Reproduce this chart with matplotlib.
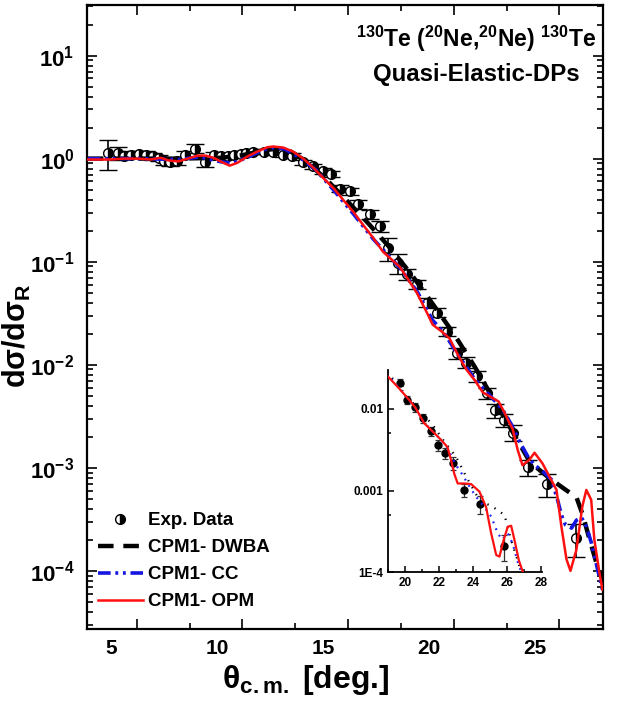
import numpy as np
import matplotlib
matplotlib.use("Agg")
import matplotlib.pyplot as plt
from matplotlib.lines import Line2D
from matplotlib.transforms import ScaledTranslation
from matplotlib.ticker import LogLocator, FuncFormatter, NullFormatter, MultipleLocator, FixedLocator

plt.rcParams["font.family"] = ["Liberation Sans", "DejaVu Sans"]
plt.rcParams["font.weight"] = "bold"
plt.rcParams["mathtext.fontset"] = "custom"
plt.rcParams["mathtext.rm"] = "Liberation Sans:bold"
plt.rcParams["mathtext.bf"] = "Liberation Sans:bold"
plt.rcParams["mathtext.it"] = "Liberation Sans:bold:italic"
plt.rcParams["mathtext.default"] = "bf"

# experimental data (theta_cm, ratio to Rutherford, relative error)
exp_theta = [3.63, 4.1, 4.39, 4.72, 5.1, 5.42, 5.75, 6.04, 6.3, 6.6, 6.93, 7.3, 7.74, 8.25,
             8.68, 9.0, 9.3, 9.62, 9.95, 10.19, 10.5, 11.04, 11.46, 11.9, 12.36, 12.88,
             13.35, 13.8, 14.2, 14.62, 15.1, 15.47, 16.04, 16.5, 16.88, 17.36, 17.8, 18.25,
             18.73, 19.2, 19.7, 20.14, 20.6, 21.08, 21.55, 21.93, 22.36, 22.8, 23.5, 24.43, 25.8]
exp_sigma = [1.14, 1.14, 1.07, 1.09, 1.12, 1.09, 1.05, 1.02, 0.94, 0.92, 0.94, 1.09, 1.25, 0.92,
             1.09, 1.05, 1.05, 1.09, 1.12, 1.14, 1.17, 1.17, 1.17, 1.09, 1.07, 0.92,
             0.84, 0.76, 0.71, 0.51, 0.48, 0.36, 0.29, 0.22, 0.135, 0.098, 0.076, 0.061,
             0.040, 0.032, 0.021, 0.013, 0.0105, 0.0077, 0.0053, 0.0036, 0.0029, 0.0022,
             0.00101, 0.00069, 0.00021]
exp_rel_err = [0.32, 0.15, 0.08, 0.08, 0.07, 0.08, 0.07, 0.07, 0.07, 0.07, 0.08, 0.08, 0.10, 0.10,
               0.07, 0.05, 0.05, 0.05, 0.05, 0.05, 0.05, 0.05, 0.05, 0.05, 0.05, 0.06,
               0.06, 0.06, 0.07, 0.08, 0.08, 0.09, 0.10, 0.12, 0.25, 0.22, 0.12, 0.10,
               0.10, 0.10, 0.10, 0.12, 0.12, 0.12, 0.12, 0.15, 0.15, 0.18, 0.18, 0.25, 0.35]

# CPM1 - OPM (main panel)
opm_theta = [2.69, 3.77, 4.39, 5.05, 5.66, 6.13, 6.51, 6.98, 7.41, 7.88, 8.25, 8.63, 9.1, 9.4,
             9.76, 10.24, 10.7, 11.18, 11.46, 11.93, 12.4, 12.88, 13.35, 13.82, 14.3, 14.76,
             15.24, 15.7, 16.18, 16.65, 17.45, 18.25, 18.73, 19.0, 19.43, 19.8, 20.19, 20.61,
             20.99, 21.37, 21.8, 22.12, 22.41, 22.64, 22.78, 23.02, 23.25, 23.58, 23.82, 24.2,
             24.53, 24.86, 25.09, 25.33, 25.52, 25.8, 26.08, 26.27, 26.5, 26.65, 26.89, 27.03]
opm_sigma = [0.98, 0.98, 1.0, 1.0, 0.98, 1.02, 0.96, 0.94, 1.0, 1.07, 1.07, 1.02, 0.91, 0.855,
             0.91, 1.05, 1.17, 1.29, 1.31, 1.28, 1.17, 1.0, 0.82, 0.65, 0.52, 0.40,
             0.306, 0.229, 0.171, 0.125, 0.089, 0.050, 0.032, 0.0245, 0.021, 0.018, 0.0125, 0.0089,
             0.0071, 0.0054, 0.0048, 0.0044, 0.0034, 0.0027, 0.0024, 0.0015, 0.00106, 0.0012, 0.0014, 0.0011,
             0.00082, 0.00061, 0.00027, 0.00013, 0.0001, 0.00016, 0.00042, 0.00061, 0.00049, 0.0002, 9.6e-5, 6.6e-5]

# CPM1 - CC (main panel)
cc_theta = [2.69, 5.0, 7.0, 8.0, 9.0, 9.5, 10.2, 11.0, 11.5, 12.0, 12.8, 13.5, 14.3, 15.2, 16.2,
            17.5, 18.3, 19.0, 19.5, 20.2, 21.0, 21.8, 22.3, 22.74, 23.11, 23.49, 23.82, 24.15,
            24.62, 24.91, 25.09, 25.28, 25.57, 25.8, 26.04, 26.27, 26.5, 26.75, 26.93, 27.03]
cc_sigma = [1.0, 1.0, 0.98, 1.04, 0.93, 0.9, 1.02, 1.22, 1.28, 1.24, 1.0, 0.77, 0.5, 0.3, 0.165,
            0.085, 0.05, 0.027, 0.021, 0.0125, 0.0072, 0.0048, 0.0037, 0.0026, 0.0018, 0.0013, 0.00106, 0.00095,
            0.00077, 0.00049, 0.00035, 0.00028, 0.00026, 0.00031, 0.00033, 0.00027, 0.00019, 1.15e-4, 8e-5, 6.6e-5]

# CPM1 - DWBA (main panel)
dwba_theta = [2.69, 5.0, 7.0, 9.0, 10.0, 11.0, 11.6, 12.2, 13.0, 14.0, 15.0, 16.0, 17.0, 18.0,
              19.0, 20.0, 21.0, 22.0, 22.8, 23.6, 24.5, 25.3, 25.8, 26.1, 26.4, 26.8, 27.05]
dwba_sigma = [1.0, 1.0, 1.0, 1.02, 1.08, 1.2, 1.25, 1.2, 0.95, 0.62, 0.38, 0.23, 0.135, 0.075,
              0.039, 0.02, 0.0095, 0.0042, 0.0022, 0.00114, 0.0008, 0.00061, 0.00052, 0.00035,
              0.00021, 1.1e-4, 8e-5]

# inset curves
ins_opm_theta = [18.9, 19.64, 20.24, 20.63, 21.12, 21.62, 22.11, 22.5, 22.7, 22.9, 23.1, 23.49,
                 23.89, 24.38, 24.77, 25.07, 25.37, 25.56, 25.8, 26.05, 26.25, 26.45, 26.7, 26.94]
ins_opm_sigma = [0.0261, 0.0179, 0.0129, 0.0102, 0.0067, 0.0053, 0.0042, 0.0034, 0.0024, 0.0016,
                 0.00122, 0.00122, 0.0012, 0.00097, 0.00063, 0.0003, 0.000162, 0.000155, 0.000245,
                 0.00036, 0.00037, 0.000245, 0.00014, 0.0001]
ins_cc_theta = [18.9, 19.64, 20.24, 20.63, 21.12, 21.62, 22.11, 22.5, 23.0, 23.39, 23.79, 24.18,
                24.67, 25.07, 25.46, 25.72, 26.05, 26.35, 26.65, 26.85]
ins_cc_sigma = [0.027, 0.0182, 0.0128, 0.0101, 0.0068, 0.0053, 0.0042, 0.0033, 0.00205, 0.00155,
                0.00112, 0.00084, 0.00063, 0.00048, 0.0003, 0.00025, 0.0003, 0.00022, 0.00013, 0.0001]
ins_dwba_theta = [18.95, 19.6, 20.3, 21.0, 21.62, 22.3, 23.0, 23.6, 24.38, 25.17, 25.86, 26.25, 26.75, 26.9]
ins_dwba_sigma = [0.0287, 0.019, 0.0128, 0.0088, 0.0064, 0.004, 0.0026, 0.00148, 0.00076, 0.00063,
                  0.0005, 0.000245, 0.000116, 0.0001]

x_major = [5, 10, 15, 20, 25]
y_major = [1e-4, 1e-3, 1e-2, 1e-1, 1e0, 1e1]

th = np.array(exp_theta)
sg = np.array(exp_sigma)
err = sg * np.array(exp_rel_err)

fig = plt.figure(figsize=(6.17, 7.02), dpi=100)
ax = fig.add_axes([0.141, 0.104, 0.836, 0.889])

ax.errorbar(th, sg, yerr=err, fmt="o", ms=7, mfc="black", mfcalt="white", fillstyle="right",
            mec="black", mew=1.0, ecolor="black", elinewidth=1.2, capsize=6.5, capthick=1.2, zorder=3)
ax.plot(dwba_theta, dwba_sigma, color="black", lw=3.2, dashes=(3.5, 2.2), zorder=4)
ax.plot(cc_theta, cc_sigma, color="#1515e0", lw=2.6, dashes=(3.5, 1.3, 0.8, 1.3, 0.8, 1.3), zorder=5)
ax.plot(opm_theta, opm_sigma, color="#ff1010", lw=1.8, zorder=6)

ax.set_yscale("log")
ax.set_xlim(2.65, 27.05)
ax.set_ylim(2.73e-5, 31)
ax.xaxis.set_major_locator(FixedLocator(x_major))
ax.xaxis.set_minor_locator(MultipleLocator(2.5))
ax.yaxis.set_major_locator(FixedLocator(y_major))
ax.yaxis.set_minor_locator(LogLocator(base=10, subs=np.arange(2, 10)))
ax.yaxis.set_minor_formatter(NullFormatter())
ax.yaxis.set_major_formatter(FuncFormatter(lambda v, p: r"$\mathbf{10^{%d}}$" % round(np.log10(v))))
ax.tick_params(which="both", direction="in", top=True, right=True, width=1.2)
ax.tick_params(which="major", length=7)
ax.tick_params(which="minor", length=4)
ax.tick_params(axis="x", labelsize=15, pad=7)
ax.tick_params(axis="y", labelsize=16, pad=9)
for s in ax.spines.values():
    s.set_linewidth(1.6)

ax.set_xlabel(r"θ$_{\mathbf{c.m.}}$ [deg.]", fontsize=23, fontweight="bold")
ax.xaxis.set_label_coords(0.424, -0.055)
ax.set_ylabel(r"dσ/dσ$_{\mathbf{R}}$", fontsize=22, fontweight="bold")
ax.yaxis.set_label_coords(-0.104, 0.47)

ax.text(0.755, 0.945, r"$^{130}$Te ($^{20}$Ne,$^{20}$Ne) $^{130}$Te", transform=ax.transAxes,
        ha="center", va="center", fontsize=16.5, fontweight="bold")
ax.text(0.755, 0.888, "Quasi-Elastic-DPs", transform=ax.transAxes,
        ha="center", va="center", fontsize=17.3, fontweight="bold")

handles = [
    Line2D([], [], ls="none", marker="o", ms=7, mfc="black", mfcalt="white", fillstyle="right", mec="black"),
    Line2D([], [], color="black", lw=3.2, dashes=(3.5, 2.2)),
    Line2D([], [], color="#1515e0", lw=2.6, dashes=(3.5, 1.3, 0.8, 1.3, 0.8, 1.3)),
    Line2D([], [], color="#ff1010", lw=1.8),
]
labels = ["Exp. Data", "CPM1- DWBA", "CPM1- CC", "CPM1- OPM"]
ax.legend(handles, labels, loc="lower left", bbox_to_anchor=(-0.005, 0.009), frameon=False,
          prop={"size": 13.5, "weight": "bold"}, handlelength=2.4, handletextpad=0.3,
          labelspacing=0.53, borderaxespad=0.3)

# inset
axi = fig.add_axes([0.629, 0.185, 0.249, 0.288])
axi.patch.set_alpha(0)
isel = th >= 19.4
axi.errorbar(th[isel], sg[isel], yerr=err[isel], fmt="o", ms=5, mfc="black", mec="black",
             ecolor="#333333", elinewidth=0.9, capsize=2, capthick=0.9, zorder=3)
axi.plot(ins_dwba_theta, ins_dwba_sigma, color="black", lw=1.6, dashes=(0.6, 3.0), zorder=4)
axi.plot(ins_cc_theta, ins_cc_sigma, color="#2020ff", lw=1.6, dashes=(0.8, 2.5), zorder=5)
axi.plot(ins_opm_theta, ins_opm_sigma, color="#ff1010", lw=1.6, zorder=6)
axi.set_yscale("log")
axi.set_xlim(19, 28.05)
axi.set_ylim(1e-4, 0.03)
axi.spines["top"].set_visible(False)
axi.spines["right"].set_visible(False)
for s in ("left", "bottom"):
    axi.spines[s].set_linewidth(1.3)
axi.xaxis.set_major_locator(MultipleLocator(2))
axi.xaxis.set_minor_locator(MultipleLocator(1))
axi.yaxis.set_major_locator(FixedLocator([1e-4, 1e-3, 1e-2]))
axi.yaxis.set_minor_locator(FixedLocator([5e-4, 5e-3]))
axi.yaxis.set_minor_formatter(NullFormatter())
axi.yaxis.set_major_formatter(FuncFormatter(lambda v, p: {-4: "1E-4", -3: "0.001", -2: "0.01"}[round(np.log10(v))]))
axi.tick_params(which="both", direction="in", width=1.1, labelsize=8.5)
axi.tick_params(which="major", length=4)
axi.tick_params(which="minor", length=2.5)

# bottom labels sit a little left of their ticks in the original figure
fig.canvas.draw()
shift = ScaledTranslation(-0.25, 0, fig.dpi_scale_trans)
for t in ax.xaxis.get_major_ticks():
    t.label1.set_transform(t.label1.get_transform() + shift)

fig.savefig("out.png", dpi=100)
